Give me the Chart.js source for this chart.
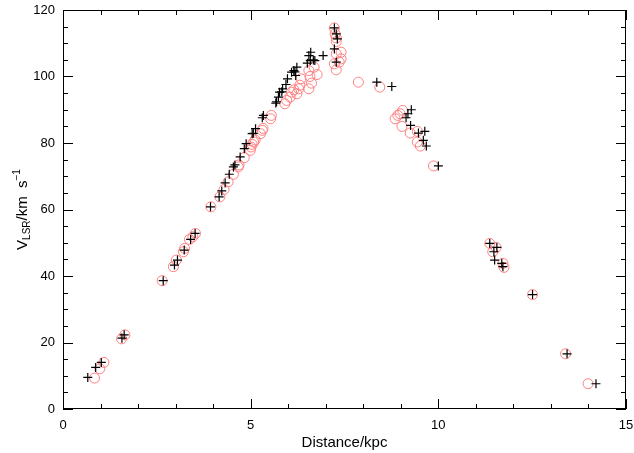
<!DOCTYPE html>
<html><head><meta charset="utf-8">
<script src="https://cdn.jsdelivr.net/npm/chart.js@4"></script>
<style>html,body{margin:0;padding:0;background:#fff}</style>
</head><body>
<canvas id="c" width="634" height="453"></canvas>
<script>
// ---- data ----
const plusX = [0.66,0.87,1.02,1.57,1.63,2.67,2.97,3.05,3.23,3.40,3.52,3.93,4.16,4.23,4.32,4.43,4.54,4.58,4.72,4.83,4.88,5.04,5.07,5.13,5.31,5.34,5.67,5.69,5.74,5.77,5.83,5.85,5.94,5.98,6.09,6.15,6.18,6.23,6.20,6.51,6.55,6.60,6.59,6.67,6.71,6.93,7.23,7.28,7.31,7.23,7.28,8.36,8.76,9.14,9.19,9.28,9.26,9.47,9.64,9.60,9.68,10.00,11.37,11.56,11.48,11.50,11.69,11.72,12.51,13.43,14.20];
const plusY = [9.5,12.5,14.0,21.3,22.3,38.6,43.3,44.8,47.8,51.0,52.8,60.8,63.8,65.6,68.0,70.6,72.8,73.4,75.8,78.3,79.8,82.8,82.9,84.3,87.6,88.3,92.0,92.4,93.8,95.3,95.4,96.3,97.6,99.3,101.3,101.8,101.4,102.8,100.3,104.0,106.3,107.3,104.8,105.0,104.8,106.3,114.6,112.8,111.3,108.3,104.3,98.3,97.0,87.6,88.8,90.0,85.3,83.0,83.5,80.8,79.1,73.1,49.8,48.6,47.3,44.8,43.8,42.8,34.4,16.6,7.6];
const circX = [0.84,0.98,1.09,1.56,1.65,2.64,2.94,3.02,3.21,3.24,3.37,3.46,3.53,3.94,4.18,4.29,4.40,4.54,4.67,4.69,4.83,4.99,5.01,5.04,5.08,5.12,5.26,5.31,5.33,5.53,5.55,5.91,5.96,6.05,6.09,6.15,6.23,6.28,6.34,6.31,6.55,6.62,6.58,6.55,6.69,6.77,7.23,7.25,7.28,7.28,7.28,7.41,7.41,7.36,7.23,7.28,7.87,8.44,8.85,8.92,8.98,9.05,9.03,9.25,9.44,9.44,9.52,9.87,11.37,11.54,11.45,11.72,11.75,12.51,13.39,13.99];
const circY = [9.3,12.1,14.0,21.1,22.3,38.6,42.8,44.8,47.3,48.3,51.0,51.8,52.8,60.8,63.8,66.0,68.3,70.6,72.8,73.4,75.6,77.8,78.8,79.6,80.3,80.9,82.8,83.8,84.4,87.3,88.3,91.8,92.8,93.8,95.3,96.0,94.8,96.3,99.3,97.4,96.3,98.0,100.0,101.8,102.8,100.6,114.6,112.8,111.6,110.5,106.8,107.3,105.3,104.3,103.8,102.0,98.3,96.8,87.3,88.3,88.8,89.8,85.0,83.0,83.5,80.3,79.1,73.1,49.8,48.6,47.3,43.8,42.6,34.4,16.6,7.6];
const xTicks = [0,5,10,15];
const yTicks = [0,20,40,60,80,100,120];
const xTitle = 'Distance/kpc';
const yTitleParts = [['V','n'],['LSR','sub'],['/km  s','n'],['\u22121','sup']];

const toPts = (xs, ys) => xs.map((v,i)=>({x:v, y:ys[i]}));
const FONT = "'Liberation Sans', Arial, sans-serif";

const frame = {
  id:'frame',
  afterDraw(chart){
    const {ctx, chartArea:a, scales:{x,y}} = chart;
    ctx.save();
    ctx.strokeStyle='#000'; ctx.lineWidth=1;
    ctx.strokeRect(a.left+0.5, a.top+0.5, a.right-a.left-1, a.bottom-a.top-1);
    ctx.beginPath();
    for (let v=0; v<=15; v+=1){
      const p=Math.round(x.getPixelForValue(v))+0.5;
      const L=(v%5===0)?10:5;
      ctx.moveTo(p,a.bottom); ctx.lineTo(p,a.bottom-L);
      ctx.moveTo(p,a.top); ctx.lineTo(p,a.top+L);
    }
    for (let v=0; v<=120; v+=5){
      const p=Math.round(y.getPixelForValue(v))+0.5;
      const L=(v%20===0)?10:5;
      ctx.moveTo(a.left,p); ctx.lineTo(a.left+L,p);
      ctx.moveTo(a.right,p); ctx.lineTo(a.right-L,p);
    }
    ctx.stroke();
    // y title with subscript / superscript
    const big=15, small=10;
    ctx.fillStyle='#000';
    ctx.textBaseline='alphabetic';
    let total=0;
    const widths=yTitleParts.map(([t,k])=>{ctx.font=(k==='n'?big:small)+'px '+FONT; const w=ctx.measureText(t).width; total+=w; return w;});
    ctx.translate(27, (a.top+a.bottom)/2);
    ctx.rotate(-Math.PI/2);
    let cx=-total/2;
    yTitleParts.forEach(([t,k],i)=>{
      ctx.font=(k==='n'?big:small)+'px '+FONT;
      const dy = k==='sub'?3:(k==='sup'?-7:0);
      ctx.fillText(t,cx,dy);
      cx+=widths[i];
    });
    ctx.restore();
  }
};

new Chart(document.getElementById('c'), {
  type:'scatter',
  data:{datasets:[
    {label:'plus', data:toPts(plusX,plusY), pointStyle:'cross', pointRadius:4.5, pointHoverRadius:4.5, borderColor:'#000', backgroundColor:'#000', borderWidth:1.2},
    {label:'circle', data:toPts(circX,circY), pointStyle:'circle', pointRadius:5, pointHoverRadius:5, borderColor:'rgb(255,127,127)', backgroundColor:'rgba(0,0,0,0)', borderWidth:1}
  ]},
  options:{
    responsive:false, animation:false, devicePixelRatio:1,
    layout:{padding:{left:0,right:8,top:10,bottom:0}},
    plugins:{legend:{display:false}, tooltip:{enabled:false}},
    scales:{
      x:{type:'linear', min:0, max:15,
        afterBuildTicks:s=>{s.ticks=xTicks.map(v=>({value:v}));},
        afterFit:s=>{s.height=44; s.paddingLeft=0; s.paddingRight=0;},
        grid:{display:false, drawTicks:false}, border:{display:false},
        ticks:{color:'#000', font:{family:FONT,size:13}, padding:9, maxRotation:0},
        title:{display:true, text:xTitle, color:'#000', font:{family:FONT,size:15}, padding:{top:0,bottom:1}}
      },
      y:{type:'linear', min:0, max:120,
        afterBuildTicks:s=>{s.ticks=yTicks.map(v=>({value:v}));},
        afterFit:s=>{s.width=63; s.paddingTop=0; s.paddingBottom=0;},
        grid:{display:false, drawTicks:false}, border:{display:false},
        ticks:{color:'#000', font:{family:FONT,size:13}, padding:8}
      }
    }
  },
  plugins:[frame]
});
</script>
</body></html>
